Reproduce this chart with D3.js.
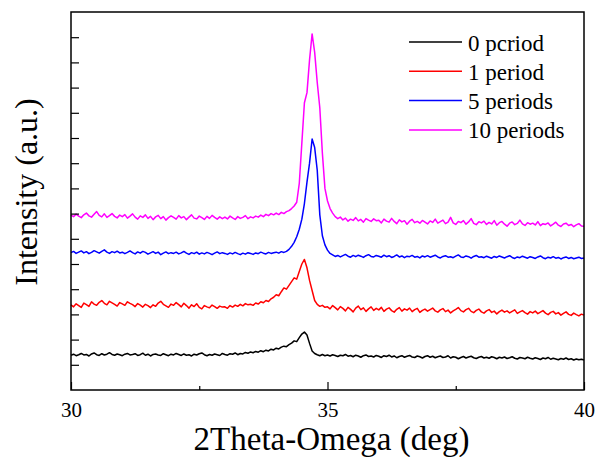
<!DOCTYPE html>
<html>
<head>
<meta charset="utf-8">
<script src="https://cdn.jsdelivr.net/npm/d3@7/dist/d3.min.js"></script>
<style>
  body { margin: 0; background: #fff; }
  text { font-family: "Liberation Serif", "Times New Roman", serif; fill: #000; }
</style>
</head>
<body>
<div id="chart"></div>
<script>
// Plages de mesure : 30 à 40 deg, un point tous les 0,05 deg
const angles = d3.range(0, 201).map(i => 30 + i * 0.05);

const period0 = [
  1.38,1.42,1.36,1.40,1.45,1.39,1.41,1.35,1.43,1.47,1.40,1.37,1.44,1.39,1.42,1.48,1.41,1.38,1.43,1.40,
  1.36,1.42,1.45,1.39,1.41,1.44,1.37,1.40,1.46,1.38,1.42,1.35,1.41,1.43,1.39,1.37,1.44,1.40,1.36,1.42,
  1.39,1.45,1.41,1.37,1.43,1.38,1.40,1.35,1.42,1.39,1.44,1.47,1.40,1.36,1.41,1.38,1.43,1.40,1.37,1.45,
  1.41,1.38,1.44,1.42,1.47,1.40,1.45,1.43,1.49,1.46,1.51,1.48,1.53,1.50,1.56,1.52,1.58,1.55,1.62,1.59,
  1.66,1.63,1.70,1.74,1.72,1.80,1.86,1.95,1.92,2.08,2.22,2.30,2.18,1.85,1.55,1.45,1.40,1.36,1.41,1.36,
  1.39,1.35,1.40,1.37,1.33,1.38,1.36,1.41,1.34,1.37,1.32,1.38,1.35,1.30,1.36,1.39,1.33,1.35,1.31,1.37,
  1.34,1.29,1.36,1.33,1.38,1.31,1.35,1.28,1.33,1.36,1.30,1.34,1.37,1.31,1.29,1.35,1.32,1.27,1.33,1.36,
  1.30,1.34,1.28,1.32,1.35,1.29,1.31,1.36,1.27,1.32,1.30,1.24,1.29,1.33,1.27,1.31,1.34,1.28,1.25,1.30,
  1.33,1.27,1.30,1.26,1.32,1.29,1.24,1.30,1.27,1.31,1.25,1.28,1.32,1.26,1.23,1.29,1.27,1.24,1.30,1.26,
  1.23,1.28,1.25,1.21,1.27,1.24,1.29,1.22,1.26,1.23,1.20,1.25,1.22,1.27,1.21,1.24,1.19,1.23,1.20,1.22,1.19
];

const period1 = [
  3.38,3.30,3.42,3.35,3.28,3.45,3.39,3.32,3.50,3.41,3.36,3.48,3.55,3.44,3.38,3.52,3.46,3.40,3.33,3.47,
  3.42,3.36,3.50,3.44,3.39,3.31,3.43,3.37,3.29,3.40,3.35,3.27,3.38,3.32,3.45,3.52,3.40,3.34,3.28,3.41,
  3.36,3.47,3.39,3.30,3.44,3.35,3.25,3.38,3.31,3.42,3.28,3.22,3.35,3.30,3.26,3.37,3.31,3.24,3.33,3.29,
  3.30,3.24,3.35,3.29,3.37,3.32,3.40,3.34,3.43,3.38,3.40,3.36,3.45,3.41,3.50,3.46,3.55,3.51,3.62,3.68,
  3.78,3.74,3.90,4.05,4.00,4.15,4.30,4.45,4.40,4.70,5.00,5.18,4.85,4.35,3.95,3.55,3.40,3.32,3.36,3.28,
  3.30,3.22,3.35,3.27,3.18,3.31,3.24,3.14,3.28,3.20,3.10,3.25,3.33,3.19,3.26,3.12,3.22,3.30,3.16,3.24,
  3.18,3.28,3.12,3.21,3.26,3.15,3.09,3.20,3.27,3.13,3.22,3.17,3.25,3.11,3.19,3.24,3.08,3.16,3.21,3.13,
  3.19,3.25,3.14,3.09,3.18,3.23,3.11,3.17,3.06,3.14,3.20,3.27,3.15,3.10,3.19,3.24,3.12,3.07,3.16,3.21,
  3.10,3.05,3.14,3.19,3.08,3.13,3.02,3.11,3.17,3.09,3.14,3.06,3.12,3.18,3.04,3.10,3.15,3.07,3.01,3.11,
  3.06,3.13,3.03,3.09,3.15,3.05,2.99,3.08,3.12,3.02,3.07,2.97,3.04,3.10,3.00,2.96,3.05,2.99,2.94,3.01,2.97
];

const period5 = [
  5.45,5.50,5.42,5.47,5.52,5.44,5.49,5.41,5.46,5.53,5.48,5.43,5.50,5.56,5.47,5.42,5.49,5.45,5.51,5.44,
  5.47,5.41,5.46,5.52,5.45,5.40,5.48,5.43,5.50,5.46,5.39,5.44,5.49,5.42,5.47,5.37,5.43,5.48,5.41,5.45,
  5.42,5.47,5.40,5.44,5.50,5.43,5.38,5.45,5.41,5.47,5.39,5.44,5.40,5.46,5.42,5.37,5.43,5.48,5.41,5.45,
  5.42,5.38,5.44,5.40,5.46,5.41,5.37,5.43,5.39,5.45,5.42,5.38,5.44,5.41,5.47,5.43,5.40,5.46,5.42,5.45,
  5.47,5.43,5.49,5.46,5.50,5.58,5.70,5.86,6.08,6.38,6.78,7.40,8.25,9.00,9.96,9.62,8.72,6.95,6.12,5.76,
  5.55,5.42,5.36,5.30,5.34,5.28,5.33,5.38,5.31,5.27,5.34,5.29,5.35,5.31,5.26,5.33,5.37,5.30,5.28,5.34,
  5.31,5.27,5.35,5.29,5.33,5.26,5.30,5.36,5.28,5.32,5.25,5.31,5.29,5.34,5.27,5.30,5.24,5.32,5.28,5.33,
  5.27,5.31,5.35,5.28,5.24,5.30,5.33,5.27,5.29,5.25,5.31,5.36,5.28,5.26,5.32,5.29,5.23,5.30,5.34,5.27,
  5.29,5.25,5.31,5.27,5.23,5.30,5.26,5.32,5.28,5.24,5.29,5.33,5.26,5.22,5.28,5.25,5.31,5.27,5.23,5.29,
  5.26,5.22,5.28,5.32,5.25,5.21,5.27,5.24,5.29,5.23,5.26,5.20,5.25,5.28,5.22,5.26,5.21,5.24,5.27,5.22,5.24
];

const period10 = [
  6.94,6.88,6.98,6.90,6.84,6.95,7.02,6.91,6.86,6.97,7.08,6.93,6.87,6.99,6.85,6.92,7.00,6.89,6.83,6.94,
  6.88,6.96,6.82,6.90,6.99,6.86,6.78,6.91,6.85,6.95,6.81,6.89,6.76,6.87,6.93,6.80,6.88,6.74,6.84,6.91,
  6.85,6.78,6.92,6.83,6.88,6.76,6.86,6.95,6.82,6.79,6.90,6.84,6.77,6.89,6.81,6.93,6.85,6.78,6.87,6.80,
  6.86,6.79,6.90,6.83,6.77,6.88,6.81,6.85,6.92,6.80,6.87,6.83,6.90,6.86,6.94,6.88,6.97,6.92,7.00,6.95,
  7.02,6.96,7.05,7.00,7.08,7.12,7.20,7.30,7.45,8.20,9.80,11.40,11.80,13.10,14.13,13.40,12.20,11.20,9.40,8.00,
  7.50,7.20,7.02,6.88,6.80,6.86,6.75,6.82,6.70,6.78,6.73,6.84,6.71,6.77,6.66,6.80,6.74,6.69,6.79,6.72,
  6.74,6.63,6.78,6.70,6.66,6.81,6.69,6.60,6.75,6.67,6.72,6.58,6.70,6.77,6.64,6.69,6.62,6.73,6.66,6.59,
  6.71,6.65,6.78,6.62,6.68,6.74,6.60,6.66,6.85,6.63,6.57,6.69,6.64,6.72,6.58,6.67,6.80,6.61,6.56,6.68,
  6.63,6.70,6.57,6.65,6.59,6.72,6.54,6.64,6.69,6.58,6.50,6.62,6.67,6.56,6.61,6.74,6.59,6.53,6.64,6.58,
  6.62,6.55,6.68,6.52,6.60,6.57,6.63,6.51,6.58,6.66,6.54,6.49,6.59,6.62,6.53,6.57,6.48,6.55,6.60,6.51,6.50
];

const seriesNames = ["0 pcriod", "1 period", "5 periods", "10 periods"];
const seriesColors = ["#000000", "#ff0000", "#0000ff", "#ff00ff"];
const seriesValues = [period0, period1, period5, period10];

const xTicks = [30, 32.5, 35, 37.5, 40];
const xLabels = [30, 35, 40];
const yTicks = d3.range(1, 15);

// Dimensions
const W = 598, H = 457;
const margin = {top: 12, right: 14, bottom: 67, left: 71},
    width = W - margin.left - margin.right,
    height = H - margin.top - margin.bottom;

const x = d3.scaleLinear().domain([30, 40]).range([0, width]);
const y = d3.scaleLinear().domain([0, 15]).range([height, 0]);

const svg = d3.select("#chart").append("svg")
    .attr("width", W)
    .attr("height", H)
    .append("g")
    .attr("transform", "translate(" + margin.left + "," + margin.top + ")");

// Courbes
const line = d3.line()
    .x(d => x(d[0]))
    .y(d => y(d[1]));

seriesValues.forEach((vals, k) => {
    svg.append("path")
        .datum(d3.zip(angles, vals))
        .attr("fill", "none")
        .attr("stroke", seriesColors[k])
        .attr("stroke-width", 1.5)
        .attr("stroke-linejoin", "round")
        .attr("d", line);
});

// Axe X, graduations vers l'intérieur
const gx = svg.append("g")
    .attr("transform", "translate(0," + height + ")")
    .call(d3.axisBottom(x)
        .tickValues(xTicks)
        .tickSize(-8)
        .tickPadding(12)
        .tickFormat(d => xLabels.includes(d) ? d : ""));
gx.select(".domain").remove();
gx.selectAll(".tick line")
    .attr("y2", d => xLabels.includes(d) ? -8 : -4)
    .attr("stroke-width", 1.2);
gx.selectAll(".tick text")
    .style("font-size", "21px")
    .style("font-family", "Liberation Serif");

// Axe Y sans étiquettes
const gy = svg.append("g")
    .call(d3.axisLeft(y)
        .tickValues(yTicks)
        .tickSize(-8)
        .tickFormat(""));
gy.select(".domain").remove();
gy.selectAll(".tick line").attr("stroke-width", 1.2);

// Cadre
svg.append("rect")
    .attr("x", 0)
    .attr("y", 0)
    .attr("width", width)
    .attr("height", height)
    .attr("fill", "none")
    .attr("stroke", "#000")
    .attr("stroke-width", 1.5);

// Titres des axes
svg.append("text")
    .attr("x", width / 2 + 4)
    .attr("y", 450 - margin.top)
    .style("text-anchor", "middle")
    .style("font-size", "33px")
    .text("2Theta-Omega (deg)");

svg.append("text")
    .attr("transform", "translate(" + (37 - margin.left) + "," + (192 - margin.top) + ") rotate(-90)")
    .style("text-anchor", "middle")
    .style("font-size", "32px")
    .text("Intensity (a.u.)");

// Légende
const legend = svg.append("g")
    .attr("transform", "translate(" + (409 - margin.left) + "," + (42 - margin.top) + ")");

seriesNames.forEach((name, k) => {
    const row = legend.append("g").attr("transform", "translate(0," + (k * 29.3) + ")");
    row.append("line")
        .attr("x1", 0).attr("x2", 53)
        .attr("y1", 0).attr("y2", 0)
        .attr("stroke", seriesColors[k])
        .attr("stroke-width", 1.5);
    row.append("text")
        .attr("x", 59)
        .attr("y", 8.5)
        .style("font-size", "23px")
        .text(name);
});
</script>
</body>
</html>
